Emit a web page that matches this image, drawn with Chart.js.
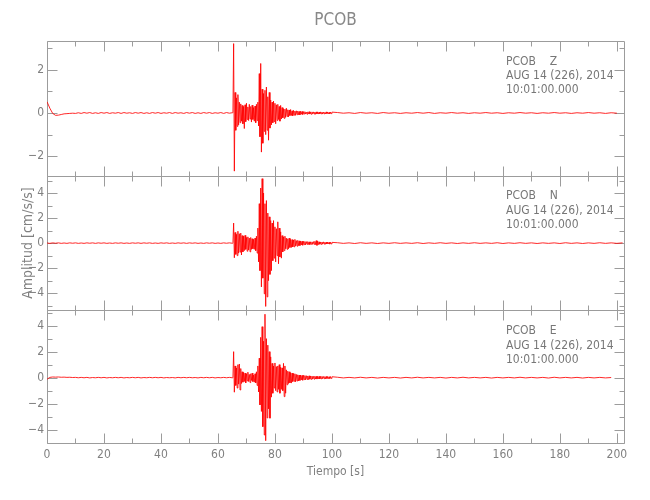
<!DOCTYPE html>
<html>
<head>
<meta charset="utf-8">
<title>PCOB</title>
<script src="https://cdn.jsdelivr.net/npm/chart.js@4.4.1/dist/chart.umd.min.js"></script>
<style>
  html, body { margin: 0; padding: 0; background: #fff; }
  canvas { display: block; }
</style>
</head>
<body>
<canvas id="seismo" width="650" height="500"></canvas>
<script>
// station / header info
const stationName = 'PCOB';
const components = ['Z', 'N', 'E'];
const dateLine = 'AUG 14 (226), 2014';
const timeLine = '10:01:00.000';

// sample times: each trace is stored in 3 pieces (pre-event, event, coda)
const segmentStart = [0, 65.25, 102];
const segmentStep = [1, 0.25, 2];

// amplitude ranges of the three panels [cm/s/s]
const rangeZ = [-2.9, 3.33];
const rangeN = [-5.38, 5.39];
const rangeE = [-5.05, 5.17];
const timeRange = [0, 202.5];

// Z component
const zPre = [
  0.52, 0.22, -0.02, -0.11, -0.1, -0.07, -0.04, -0.03, -0.02, -0.01,
  -0.02, 0.01, -0.02, 0.02, -0.01, 0.02, -0.02, 0.01, -0.02, 0.02,
  -0.01, 0.02, -0.02, 0.01, -0.01, 0.02, -0.02, 0.02, -0.01, 0.01,
  -0.02, 0.02, -0.01, 0.02, -0.02, 0.01, -0.02, 0.02, -0.01, 0.02,
  -0.02, 0.01, -0.01, 0.02, -0.02, 0.02, -0.01, 0.01, -0.02, 0.02,
  -0.01, 0.02, -0.02, 0.01, -0.02, 0.02, -0.01, 0.02, -0.02, 0.01,
  -0.01, 0.02, -0.02, 0.02, -0.01, 0.01
];
const zEvent = [
  0.03, 3.21, -2.69, 0.95, -0.8, 0.7, -0.62, 0.85,
  -0.55, 0.5, -0.45, 0.42, -0.38, 0.35, -0.5, 0.3,
  -0.72, 0.38, -0.4, 0.45, -0.3, 0.28, -0.35, 0.4,
  -0.28, 0.3, -0.42, 0.36, -0.3, 0.25, -0.38, 0.32,
  -0.45, 0.4, -0.35, 0.5, -0.6, 1.82, -1.1, 2.29,
  -1.81, 1.1, -1.4, 0.9, -0.85, 1.05, -1.0, 1.2,
  -0.8, 0.75, -1.26, 0.95, -0.7, 0.6, -0.55, 0.5,
  -0.45, 0.55, -0.4, 0.45, -0.5, 0.38, -0.35, 0.4,
  -0.3, 0.3, -0.38, 0.35, -0.28, 0.25, -0.22, 0.2,
  -0.25, 0.18, -0.2, 0.22, -0.16, 0.15, -0.18, 0.14,
  -0.12, 0.16, -0.12, 0.1, -0.13, 0.12, -0.1, 0.09,
  -0.11, 0.1, -0.08, 0.09, -0.08, 0.07, -0.09, 0.08,
  -0.06, 0.07, -0.07, 0.06, -0.05, 0.06, -0.05, 0.04,
  -0.06, 0.05, -0.04, 0.06, -0.05, 0.04, -0.06, 0.05,
  -0.04, 0.05, -0.05, 0.04, -0.06, 0.05, -0.04, 0.05,
  -0.05, 0.04, -0.04, 0.05, -0.04, 0.04, -0.05, 0.04,
  -0.04, 0.03, -0.04, 0.05, -0.03, 0.04, -0.04, 0.03,
  -0.04, 0.04, -0.03, 0.04
];
const zCoda = [
  0.02, -0.01, 0.01, -0.02, 0.02, -0.01, 0.01, -0.02, 0.02, -0.01,
  0.01, -0.02, 0.01, -0.01, 0.02, -0.01, 0.02, -0.02, 0.01, -0.01,
  0.02, -0.01, 0.01, -0.02, 0.01, -0.01, 0.02, -0.01, 0.01, -0.02,
  0.01, -0.01, 0.02, -0.01, 0.01, -0.02, 0.01, -0.01, 0.02, -0.01,
  0.01, -0.02, 0.01, -0.01, 0.02, -0.01, 0.01, -0.02, 0.01, -0.01
];

// N component
const nPre = [
  0.01, -0.02, 0.02, -0.01, 0.02, -0.02, 0.01, -0.02, 0.02, -0.01,
  0.02, -0.02, 0.01, -0.02, 0.02, -0.01, 0.02, -0.02, 0.02, -0.01,
  0.02, -0.02, 0.01, -0.02, 0.02, -0.01, 0.02, -0.02, 0.01, -0.02,
  0.02, -0.01, 0.02, -0.02, 0.02, -0.01, 0.02, -0.02, 0.01, -0.02,
  0.02, -0.01, 0.02, -0.02, 0.01, -0.02, 0.02, -0.01, 0.02, -0.02,
  0.02, -0.01, 0.02, -0.02, 0.01, -0.02, 0.02, -0.01, 0.02, -0.02,
  0.01, -0.02, 0.02, -0.01, 0.02, -0.01
];
const nEvent = [
  0.04, 1.6, -1.17, 0.85, -0.9, 0.7, -1.0, 0.95,
  -0.8, 0.75, -0.72, 0.8, -0.95, 0.6, -0.7, 0.55,
  -0.6, 0.62, -0.5, 0.45, -0.65, 0.5, -0.55, 0.4,
  -0.7, 0.45, -0.5, 0.35, -0.45, 0.3, -0.5, 0.4,
  -0.6, 0.55, -0.8, 1.2, -1.5, 3.15, -2.2, 4.4,
  -3.5, 5.15, -2.8, 4.0, -4.05, 3.15, -5.06, 3.4,
  -4.3, 2.4, -3.0, 2.1, -2.5, 1.8, -2.2, 1.6,
  -1.4, 1.8, -1.2, 1.3, -1.5, 1.15, -1.0, 1.7,
  -1.65, 1.2, -1.1, 0.9, -1.2, 0.6, -0.7, 0.5,
  -0.6, 0.55, -0.45, 0.4, -0.5, 0.35, -0.45, 0.4,
  -0.35, 0.3, -0.35, 0.28, -0.3, 0.25, -0.3, 0.3,
  -0.22, 0.2, -0.25, 0.22, -0.2, 0.18, -0.2, 0.16,
  -0.15, 0.15, -0.17, 0.14, -0.12, 0.13, -0.14, 0.12,
  -0.1, 0.12, -0.11, 0.1, -0.12, 0.1, -0.09, 0.1,
  -0.1, 0.12, -0.1, 0.14, -0.12, 0.2, -0.18, 0.16,
  -0.12, 0.1, -0.09, 0.08, -0.1, 0.09, -0.08, 0.1,
  -0.08, 0.07, -0.09, 0.08, -0.07, 0.08, -0.06, 0.07,
  -0.08, 0.06, -0.07, 0.06
];
const nCoda = [
  0.03, -0.02, 0.02, -0.03, 0.03, -0.02, 0.02, -0.03, 0.02, -0.02,
  0.03, -0.02, 0.02, -0.02, 0.03, -0.03, 0.02, -0.02, 0.03, -0.02,
  0.02, -0.03, 0.02, -0.02, 0.03, -0.02, 0.02, -0.02, 0.03, -0.03,
  0.02, -0.02, 0.03, -0.02, 0.02, -0.03, 0.02, -0.02, 0.02, -0.03,
  0.03, -0.02, 0.02, -0.03, 0.02, -0.02, 0.03, -0.02, 0.02, -0.02,
  0.02
];

// E component
const ePre = [
  -0.12, 0.02, 0.05, 0.04, 0.05, 0.03, 0.04, 0.02, 0.03, 0.01,
  0.02, -0.01, 0.02, -0.01, 0.02, -0.02, 0.01, -0.01, 0.02, -0.01,
  0.02, -0.02, 0.01, -0.01, 0.02, -0.01, 0.02, -0.02, 0.01, -0.01,
  0.02, -0.01, 0.02, -0.02, 0.01, -0.01, 0.02, -0.01, 0.02, -0.01,
  0.02, -0.02, 0.01, -0.01, 0.01, -0.02, 0.02, -0.01, 0.02, -0.01,
  0.02, -0.01, 0.01, -0.02, 0.02, -0.01, 0.02, -0.01, 0.02, -0.02,
  0.01, -0.01, 0.02, -0.01, 0.02, -0.01
];
const eEvent = [
  0.03, 2.0, -1.12, 0.9, -0.6, 0.75, -0.8, 1.0,
  -0.5, 1.05, -0.95, 0.7, -0.45, 0.45, -0.35, 0.4,
  -0.3, 0.35, -0.4, 0.3, -0.25, 0.42, -0.3, 0.25,
  -0.38, 0.3, -0.22, 0.35, -0.3, 0.2, -0.35, 0.3,
  -0.4, 0.45, -0.6, 0.9, -1.1, 1.5, -2.1, 3.1,
  -2.6, 3.92, -3.77, 2.8, -4.41, 4.88, -4.85, 3.0,
  -3.1, 2.5, -2.4, 2.0, -3.12, 1.6, -1.5, 1.1,
  -1.2, 0.9, -0.8, 1.13, -1.0, 0.85, -1.1, 0.9,
  -0.9, 1.0, -1.2, 0.8, -0.9, 0.75, -1.0, 1.1,
  -1.46, 0.9, -1.2, 0.6, -0.55, 0.5, -0.45, 0.45,
  -0.4, 0.38, -0.42, 0.35, -0.3, 0.32, -0.28, 0.3,
  -0.32, 0.25, -0.26, 0.22, -0.25, 0.2, -0.22, 0.2,
  -0.18, 0.17, -0.2, 0.18, -0.15, 0.16, -0.17, 0.15,
  -0.14, 0.13, -0.15, 0.14, -0.12, 0.12, -0.13, 0.12,
  -0.11, 0.1, -0.12, 0.11, -0.1, 0.1, -0.11, 0.1,
  -0.09, 0.1, -0.1, 0.09, -0.09, 0.1, -0.08, 0.09,
  -0.08, 0.08, -0.09, 0.09, -0.07, 0.08, -0.08, 0.07,
  -0.07, 0.08, -0.06, 0.07
];
const eCoda = [
  0.03, -0.02, 0.02, -0.02, 0.03, -0.02, 0.02, -0.03, 0.02, -0.02,
  0.02, -0.03, 0.02, -0.02, 0.03, -0.02, 0.02, -0.02, 0.02, -0.03,
  0.02, -0.02, 0.03, -0.02, 0.02, -0.02, 0.02, -0.03, 0.02, -0.02,
  0.02, -0.02, 0.03, -0.02, 0.02, -0.02, 0.02, -0.03, 0.03, -0.02,
  0.02, -0.02, 0.02, -0.03, 0.02, -0.02, 0.02, -0.02, 0.01
];

const FONT = "'Liberation Sans Narrow', 'DejaVu Sans Condensed', 'Liberation Sans', sans-serif";
const TEXT = '#808080';
const FRAME = '#9c9c9c';

// join the three pieces of a trace into {x, y} points
function toPoints(pieces) {
  const pts = [];
  pieces.forEach((vals, s) => {
    vals.forEach((v, i) => pts.push({ x: segmentStart[s] + i * segmentStep[s], y: v }));
  });
  return pts;
}

function fmtTick(v) {
  if (v === 0) return '0';
  return v < 0 ? '\u2212' + Math.abs(v) : String(v);
}

function panelAxis(range, weight, stackWeight, title) {
  return {
    type: 'linear',
    position: 'left',
    stack: 'traces',
    stackWeight: stackWeight,
    weight: weight,
    min: range[0],
    max: range[1],
    grid: { display: false, drawTicks: false },
    border: { display: false },
    ticks: { stepSize: 2, includeBounds: false, padding: 3, color: TEXT, font: { family: FONT, size: 12 }, callback: fmtTick },
    title: title
      ? { display: true, text: title, color: TEXT, font: { family: FONT, size: 14 }, padding: { top: 20, bottom: 0 } }
      : { display: false },
    afterFit: s => { s.width = 47; }
  };
}

// panel frames with inward ticks, the page title and the header text of each panel
const frameTicks = {
  id: 'frameTicks',
  beforeDatasetsDraw(chart) {
    const { ctx, chartArea, scales } = chart;
    const xs = scales.x;
    const left = Math.round(chartArea.left) + 0.5;
    const right = Math.round(chartArea.right) + 0.5;
    ctx.save();

    ctx.fillStyle = '#888';
    ctx.font = '17px ' + FONT;
    ctx.textAlign = 'center';
    ctx.textBaseline = 'middle';
    ctx.fillText(stationName, (chartArea.left + chartArea.right) / 2, 21);

    ctx.strokeStyle = FRAME;
    ctx.lineWidth = 1;
    ['yZ', 'yN', 'yE'].forEach((id, k) => {
      const ys = scales[id];
      const top = Math.round(ys.top) + 0.5;
      const bottom = Math.round(ys.bottom) + 0.5;
      ctx.beginPath();
      ctx.rect(left, top, right - left, bottom - top);
      for (let t = 0; t <= xs.max; t += 10) {
        const px = Math.round(xs.getPixelForValue(t)) + 0.5;
        const len = t % 20 === 0 ? 10 : 5;
        ctx.moveTo(px, top); ctx.lineTo(px, top + len);
        ctx.moveTo(px, bottom); ctx.lineTo(px, bottom - len);
      }
      for (let v = Math.ceil(ys.min); v <= ys.max; v++) {
        const py = Math.round(ys.getPixelForValue(v)) + 0.5;
        const len = v % 2 === 0 ? 10 : 5;
        ctx.moveTo(left, py); ctx.lineTo(left + len, py);
        ctx.moveTo(right, py); ctx.lineTo(right - len, py);
      }
      ctx.stroke();

      ctx.fillStyle = '#777';
      ctx.font = '12px ' + FONT;
      ctx.textAlign = 'left';
      ctx.textBaseline = 'middle';
      const tx = chartArea.right - 118;
      ctx.fillText(stationName + '    ' + components[k], tx, ys.top + 20.7);
      ctx.fillText(dateLine, tx, ys.top + 35.3);
      ctx.fillText(timeLine, tx, ys.top + 49.3);
    });
    ctx.restore();
  }
};

const traceStyle = { borderColor: '#ff0000', borderWidth: 0.85, pointRadius: 0, tension: 0, fill: false };

new Chart(document.getElementById('seismo'), {
  type: 'line',
  data: {
    datasets: [
      Object.assign({ label: components[0], data: toPoints([zPre, zEvent, zCoda]), yAxisID: 'yZ' }, traceStyle),
      Object.assign({ label: components[1], data: toPoints([nPre, nEvent, nCoda]), yAxisID: 'yN' }, traceStyle),
      Object.assign({ label: components[2], data: toPoints([ePre, eEvent, eCoda]), yAxisID: 'yE' }, traceStyle)
    ]
  },
  options: {
    responsive: false,
    animation: false,
    events: [],
    layout: { padding: { left: 0, right: 26, top: 41, bottom: 0 } },
    plugins: {
      legend: { display: false },
      tooltip: { enabled: false },
      title: { display: false }
    },
    scales: {
      x: {
        type: 'linear',
        position: 'bottom',
        min: timeRange[0],
        max: timeRange[1],
        grid: { display: false, drawTicks: false },
        border: { display: false },
        ticks: { stepSize: 20, includeBounds: false, padding: 4, maxRotation: 0, color: TEXT, font: { family: FONT, size: 12 } },
        title: { display: true, text: 'Tiempo [s]', color: TEXT, font: { family: FONT, size: 12 }, padding: { top: 0, bottom: 21 } },
        afterFit: s => { s.height = 56.7; }
      },
      yE: panelAxis(rangeE, 1, 132.8, null),
      yN: panelAxis(rangeN, 2, 134.7, 'Amplitud [cm/s/s]'),
      yZ: panelAxis(rangeZ, 3, 134.6, null)
    }
  },
  plugins: [frameTicks]
});
</script>
</body>
</html>
